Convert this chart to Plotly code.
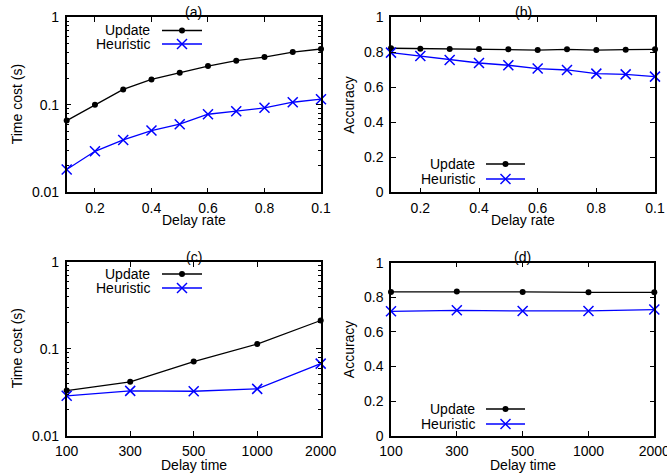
import plotly.graph_objects as go

# ---------------- data ----------------
delay_rate = [0.1, 0.2, 0.3, 0.4, 0.5, 0.6, 0.7, 0.8, 0.9, 1.0]
rate_tickvals = [0.2, 0.4, 0.6, 0.8, 1.0]
rate_ticktext = ["0.2", "0.4", "0.6", "0.8", "0.1"]

a_update = [0.066, 0.100, 0.150, 0.195, 0.232, 0.277, 0.319, 0.351, 0.400, 0.434]
a_heuristic = [0.0182, 0.0294, 0.0397, 0.0508, 0.060, 0.078, 0.0846, 0.0924, 0.107, 0.116]

b_update = [0.823, 0.821, 0.819, 0.819, 0.817, 0.813, 0.817, 0.813, 0.815, 0.817]
b_heuristic = [0.798, 0.779, 0.756, 0.739, 0.726, 0.707, 0.699, 0.678, 0.674, 0.661]

delay_time = ["100", "300", "500", "1000", "2000"]
c_update = [0.0331, 0.0417, 0.0713, 0.1135, 0.212]
c_heuristic = [0.0288, 0.0328, 0.0325, 0.0346, 0.0676]

d_update = [0.831, 0.833, 0.831, 0.829, 0.829]
d_heuristic = [0.719, 0.725, 0.721, 0.721, 0.729]

series_names = ["Update", "Heuristic"]

# ---------------- style ----------------
W, H = 667, 476
FONT = "Liberation Sans, Arial, sans-serif"
BLACK = "#000000"
BLUE = "#0000ff"
FS = 14

def px(x):
    return x / W

def py(y):
    return 1 - y / H

# panel frames in pixels: (left, right, top, bottom)
frames = {
    "a": (66.7, 321.0, 17.3, 192.3),
    "b": (391.0, 655.0, 17.3, 192.3),
    "c": (66.7, 320.7, 262.0, 435.7),
    "d": (391.0, 654.3, 262.7, 435.7),
}

fig = go.Figure()

def add_pair(xs, ys_u, ys_h, xa, ya):
    fig.add_trace(go.Scatter(
        x=xs, y=ys_u, name=series_names[0], mode="lines+markers",
        line=dict(color=BLACK, width=1.3),
        marker=dict(symbol="circle", size=6, color=BLACK),
        xaxis=xa, yaxis=ya, showlegend=False, cliponaxis=False))
    fig.add_trace(go.Scatter(
        x=xs, y=ys_h, name=series_names[1], mode="lines+markers",
        line=dict(color=BLUE, width=1.3),
        marker=dict(symbol="x-thin", size=10, color=BLUE,
                    line=dict(color=BLUE, width=1.5)),
        xaxis=xa, yaxis=ya, showlegend=False, cliponaxis=False))

add_pair(delay_rate, a_update, a_heuristic, "x", "y")
add_pair(delay_rate, b_update, b_heuristic, "x2", "y2")
add_pair(delay_time, c_update, c_heuristic, "x3", "y3")
add_pair(delay_time, d_update, d_heuristic, "x4", "y4")

common = dict(
    automargin=False,
    showline=True, linecolor=BLACK, linewidth=1.5, mirror="allticks",
    ticks="inside", ticklen=5, tickwidth=1, tickcolor=BLACK,
    showgrid=False, zeroline=False,
    tickfont=dict(family=FONT, size=FS, color=BLACK),
)

layout_axes = {}
for i, key in enumerate(["a", "b", "c", "d"]):
    l, r, t, b = frames[key]
    sx = "" if i == 0 else str(i + 1)
    xd = dict(common, domain=[px(l), px(r)], anchor="y" + sx, ticklabelstandoff=2)
    yd = dict(common, domain=[py(b), py(t)], anchor="x" + sx, ticklabelstandoff=3)
    if key in ("a", "b"):
        xd.update(range=[0.1, 1.0], tickvals=rate_tickvals, ticktext=rate_ticktext)
    else:
        xd.update(type="category", range=[0, 4])
    if key in ("a", "c"):
        yd.update(type="log", range=[-2, 0], tickvals=[0.01, 0.1, 1],
                  ticktext=["0.01", "0.1", "1"],
                  minor=dict(ticks="inside", ticklen=3, tickcolor=BLACK,
                             tickwidth=1, dtick="D1", showgrid=False))
    else:
        yd.update(range=[0, 1], tickvals=[0, 0.2, 0.4, 0.6, 0.8, 1],
                  ticktext=["0", "0.2", "0.4", "0.6", "0.8", "1"])
    layout_axes["xaxis" + sx] = xd
    layout_axes["yaxis" + sx] = yd

annotations = []
shapes = []

def text(x, y, s, xanchor="center", angle=0):
    annotations.append(dict(
        x=px(x), y=py(y), xref="paper", yref="paper", text=s, showarrow=False,
        xanchor=xanchor, yanchor="middle", textangle=angle,
        font=dict(family=FONT, size=FS, color=BLACK)))

titles = {"a": ("(a)", 11.5), "b": ("(b)", 11.5), "c": ("(c)", 256.5), "d": ("(d)", 257)}
xtitles = {"a": ("Delay rate", 220), "b": ("Delay rate", 220),
           "c": ("Delay time", 465), "d": ("Delay time", 465)}
ytitles = {"a": ("Time cost (s)", 16.5), "b": ("Accuracy", 349),
           "c": ("Time cost (s)", 16.5), "d": ("Accuracy", 349)}
legend_pos = {"a": (152, 162, 202, 30.5, 44), "b": (477, 486, 525, 164, 179),
              "c": (152, 162, 202, 274, 288), "d": (477, 486, 525, 409, 424)}

for key in ["a", "b", "c", "d"]:
    l, r, t, b = frames[key]
    cx = (l + r) / 2
    cy = (t + b) / 2
    text(cx, titles[key][1], titles[key][0])
    text(cx, xtitles[key][1], xtitles[key][0])
    text(ytitles[key][1], cy, ytitles[key][0], angle=-90)
    tx, lx0, lx1, y1, y2 = legend_pos[key]
    text(tx, y1, series_names[0], xanchor="right")
    text(tx, y2, series_names[1], xanchor="right")
    mx = (lx0 + lx1) / 2
    shapes.append(dict(type="line", xref="paper", yref="paper",
                       x0=px(lx0), x1=px(lx1), y0=py(y1), y1=py(y1),
                       line=dict(color=BLACK, width=1.3)))
    shapes.append(dict(type="circle", xref="paper", yref="paper",
                       xsizemode="pixel", ysizemode="pixel",
                       xanchor=px(mx), yanchor=py(y1),
                       x0=-3, x1=3, y0=-3, y1=3,
                       fillcolor=BLACK, line=dict(color=BLACK, width=0)))
    shapes.append(dict(type="line", xref="paper", yref="paper",
                       x0=px(lx0), x1=px(lx1), y0=py(y2), y1=py(y2),
                       line=dict(color=BLUE, width=1.3)))
    for sgn in (1, -1):
        shapes.append(dict(type="line", xref="paper", yref="paper",
                           xsizemode="pixel", ysizemode="pixel",
                           xanchor=px(mx), yanchor=py(y2),
                           x0=-5, x1=5, y0=-5 * sgn, y1=5 * sgn,
                           line=dict(color=BLUE, width=1.5)))

fig.update_layout(
    width=W, height=H,
    margin=dict(l=0, r=0, t=0, b=0),
    paper_bgcolor="white", plot_bgcolor="rgba(0,0,0,0)",
    font=dict(family=FONT, size=FS, color=BLACK),
    showlegend=False,
    annotations=annotations, shapes=shapes,
    **layout_axes,
)

fig.write_html(
    "out.html",
    config={"displayModeBar": False},
    post_script="document.body.style.margin='0';document.body.style.overflow='hidden';",
)
